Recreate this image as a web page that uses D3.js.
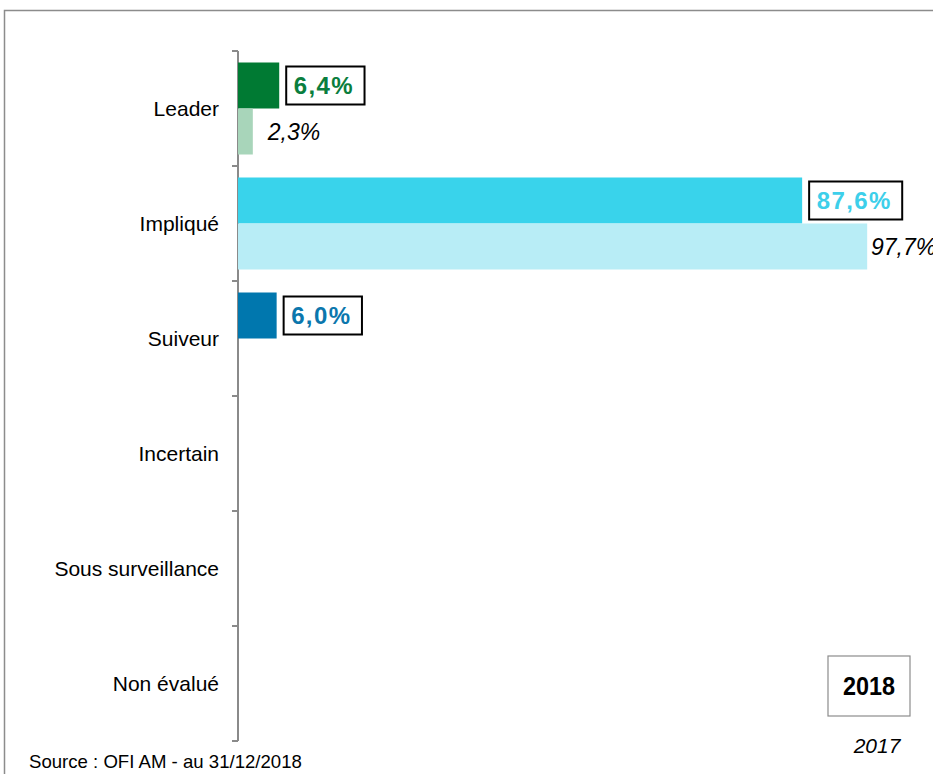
<!DOCTYPE html>
<html>
<head>
<meta charset="utf-8">
<script src="https://cdn.jsdelivr.net/npm/d3@7"></script>
<style>
  html, body { margin: 0; padding: 0; background: #fff; }
  svg { display: block; }
  text { font-family: "Liberation Sans", Arial, sans-serif; }
</style>
</head>
<body>
<script>
// ---- data ----
const categories = ["Leader", "Impliqué", "Suiveur", "Incertain", "Sous surveillance", "Non évalué"];
const years = ["2018", "2017"];
const values2018 = [6.4, 87.6, 6.0, 0, 0, 0];
const values2017 = [2.3, 97.7, 0, 0, 0, 0];
const colors2018 = ["#007A33", "#39D3EB", "#0077AE", "#888888", "#888888", "#888888"];
const colors2017 = ["#A8D5BA", "#B8EDF6", "#99C9DF", "#cccccc", "#cccccc", "#cccccc"];
const labelColors2018 = ["#0A7E3E", "#3DCFEA", "#0B77AD", "#000", "#000", "#000"];
const sourceText = "Source : OFI AM - au 31/12/2018";

const W = 933, H = 774;
const svg = d3.select("body").append("svg").attr("width", W).attr("height", H);

// outer frame
svg.append("rect")
  .attr("x", 4.5).attr("y", 10.5)
  .attr("width", W + 20).attr("height", H + 20)
  .attr("fill", "none").attr("stroke", "#8c8c8c").attr("stroke-width", 1.5);

const x0 = 238;
const x = d3.scaleLinear().domain([0, 100]).range([x0, 882]);
const y = d3.scaleBand().domain(categories).range([51, 741]).paddingInner(0.2).paddingOuter(0.1);
const yIn = d3.scaleBand().domain(years).range([0, y.bandwidth()]);
const step = y.step();

// axis (ticks at band boundaries)
const axisG = svg.append("g");
axisG.append("line")
  .attr("x1", x0).attr("x2", x0).attr("y1", 51).attr("y2", 741)
  .attr("stroke", "#8a8a8a").attr("stroke-width", 2);
const bounds = d3.range(categories.length + 1).map(i => 51 + i * step);
axisG.selectAll("line.tick").data(bounds).enter().append("line")
  .attr("class", "tick")
  .attr("x1", x0 - 6).attr("x2", x0).attr("y1", d => d).attr("y2", d => d)
  .attr("stroke", "#8a8a8a").attr("stroke-width", 2);
axisG.selectAll("text.cat").data(categories).enter().append("text")
  .attr("class", "cat")
  .attr("x", 219)
  .attr("y", d => 51 + (categories.indexOf(d) + 0.5) * step)
  .attr("dy", "0.36em")
  .attr("text-anchor", "end")
  .attr("font-size", 21)
  .attr("fill", "#000")
  .text(d => d);

// rows
const rows = categories.map((c, i) => ({ cat: c, i, v18: values2018[i], v17: values2017[i] }));

// 2018 bars
svg.selectAll("rect.b18").data(rows.filter(d => d.v18 > 0)).enter().append("rect")
  .attr("class", "b18")
  .attr("x", x0)
  .attr("y", d => y(d.cat) + yIn("2018"))
  .attr("width", d => x(d.v18) - x0)
  .attr("height", yIn.bandwidth())
  .attr("fill", d => colors2018[d.i]);

// 2017 bars
svg.selectAll("rect.b17").data(rows.filter(d => d.v17 > 0)).enter().append("rect")
  .attr("class", "b17")
  .attr("x", x0)
  .attr("y", d => y(d.cat) + yIn("2017"))
  .attr("width", d => x(d.v17) - x0)
  .attr("height", yIn.bandwidth())
  .attr("fill", d => colors2017[d.i]);

const fmt = v => d3.format(".1f")(v).replace(".", ",") + "%";

// 2018 labels in boxes
const lab18 = svg.selectAll("g.l18").data(rows.filter(d => d.v18 > 0)).enter().append("g").attr("class", "l18");
lab18.each(function(d) {
  const g = d3.select(this);
  const cy = y(d.cat) + yIn("2018") + yIn.bandwidth() / 2;
  const bx = x(d.v18) + 7;
  const t = g.append("text")
    .attr("y", cy)
    .attr("dy", "0.36em")
    .attr("font-size", 24)
    .attr("font-weight", "bold")
    .attr("letter-spacing", 1.4)
    .attr("fill", labelColors2018[d.i])
    .text(fmt(d.v18));
  const tw = t.node().getComputedTextLength();
  t.attr("x", bx + 7.5);
  g.insert("rect", "text")
    .attr("x", bx).attr("y", cy - 19)
    .attr("width", tw + 18).attr("height", 38)
    .attr("fill", "#fff").attr("stroke", "#000").attr("stroke-width", 2);
});

// 2017 labels (italic)
svg.selectAll("text.l17").data(rows.filter(d => d.v17 > 0)).enter().append("text")
  .attr("class", "l17")
  .attr("x", d => Math.min(x(d.v17) + 15, W - 62))
  .attr("y", d => y(d.cat) + yIn("2017") + yIn.bandwidth() / 2)
  .attr("dy", "0.36em")
  .attr("font-size", 23)
  .attr("font-style", "italic")
  .attr("fill", "#000")
  .text(d => fmt(d.v17));

// legend
const lg = svg.append("g");
lg.append("rect")
  .attr("x", 828).attr("y", 656).attr("width", 82).attr("height", 60)
  .attr("fill", "#fff").attr("stroke", "#8c8c8c").attr("stroke-width", 1.2);
lg.append("text")
  .attr("x", 869).attr("y", 686).attr("dy", "0.36em")
  .attr("text-anchor", "middle")
  .attr("font-size", 26).attr("font-weight", "bold")
  .attr("transform", "translate(869,0) scale(0.9,1) translate(-869,0)")
  .text(years[0]);
lg.append("text")
  .attr("x", 877).attr("y", 745).attr("dy", "0.36em")
  .attr("text-anchor", "middle")
  .attr("font-size", 21).attr("font-style", "italic")
  .text(years[1]);

// source
svg.append("text")
  .attr("x", 29).attr("y", 768)
  .attr("font-size", 18.6)
  .text(sourceText);
</script>
</body>
</html>
